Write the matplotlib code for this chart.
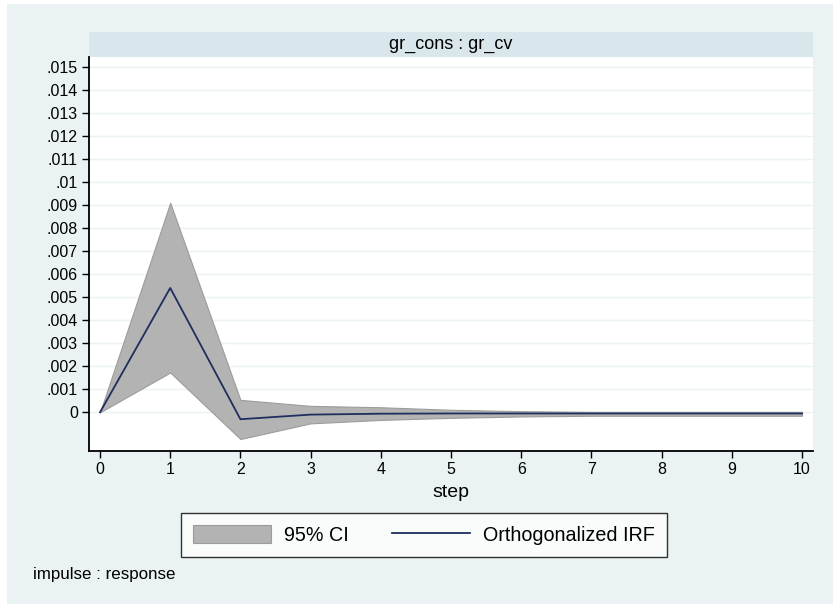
import matplotlib
matplotlib.use("Agg")
import matplotlib.pyplot as plt
from matplotlib.patches import Patch, Rectangle
from matplotlib.lines import Line2D
import numpy as np

plt.rcParams['font.family'] = ['Liberation Sans', 'DejaVu Sans']

# impulse response values
steps = [0, 1, 2, 3, 4, 5, 6, 7, 8, 9, 10]
irf = [0, 0.0054, -0.0003, -0.0001, -0.00006, -0.00005, -0.00005, -0.00005, -0.00005, -0.00005, -0.00005]
ci_upper = [0, 0.0091, 0.00054, 0.00028, 0.00022, 0.00011, 0.00005, 0.00002, 0.00002, 0.00002, 0.00002]
ci_lower = [0, 0.00173, -0.00116, -0.00048, -0.00033, -0.00024, -0.00018, -0.00015, -0.00015, -0.00015, -0.00015]

yticks = [i / 1000 for i in range(16)]
ytick_labels = ["0"] + ["." + ("%03d" % i).rstrip("0") if i % 10 else ".01" for i in range(1, 16)]

bg = "#eaf2f3"
strip_col = "#d9e6eb"
line_col = "#1e2f5e"
ci_col = "#b3b3b3"
ci_edge = "#9c9c9c"

W, H = 833, 607
fig = plt.figure(figsize=(W / 100, H / 100), dpi=100, facecolor="white")
fig.patches.append(Rectangle((7 / W, 3 / H), 1, 1 - 7 / H, transform=fig.transFigure,
                             facecolor=bg, edgecolor="none", zorder=-10))

# panel strip
sx = fig.add_axes([89 / W, 1 - 57 / H, 724 / W, 25 / H])
sx.set_facecolor(strip_col)
sx.set_xticks([])
sx.set_yticks([])
for s in sx.spines.values():
    s.set_visible(False)
sx.text(0.5, 0.5, "gr_cons : gr_cv", ha="center", va="center", fontsize=13)

ax = fig.add_axes([89 / W, 1 - 451 / H, 724 / W, 394 / H])
ax.set_facecolor("white")
ax.fill_between(steps, ci_lower, ci_upper, facecolor=ci_col, edgecolor=ci_edge, lw=0.8, zorder=2)
ax.plot(steps, irf, color=line_col, lw=1.3, zorder=3)

ax.set_xlim(-0.157, 10.157)
ax.set_ylim(-0.00168, 0.01543)
ax.set_xticks(steps)
ax.set_yticks(yticks)
ax.set_yticklabels(ytick_labels)
ax.tick_params(axis="both", labelsize=11.5, length=5, width=1, color="black", pad=3)
ax.grid(axis="y", color=bg, lw=1)
ax.set_axisbelow(True)
for side in ["top", "right"]:
    ax.spines[side].set_visible(False)
for side in ["left", "bottom"]:
    ax.spines[side].set_linewidth(1.3)
ax.set_xlabel("step", fontsize=14, labelpad=5)

handles = [Patch(facecolor=ci_col, edgecolor=ci_edge, lw=0.8),
           Line2D([], [], color=line_col, lw=1.3)]
leg = fig.legend(handles, ["95% CI", "Orthogonalized IRF"], ncol=2, loc="center",
                 bbox_to_anchor=(424 / W, 1 - 535 / H), fontsize=14.2, frameon=True,
                 fancybox=False, edgecolor="black", handlelength=3.96, handleheight=1.05,
                 handletextpad=0.66, columnspacing=2.2, borderpad=0.6)
leg.get_frame().set_linewidth(1.0)

fig.text(33 / W, 1 - 575 / H, "impulse : response", fontsize=12.2, va="center", ha="left")

fig.savefig("out.png", dpi=100, facecolor="white")
